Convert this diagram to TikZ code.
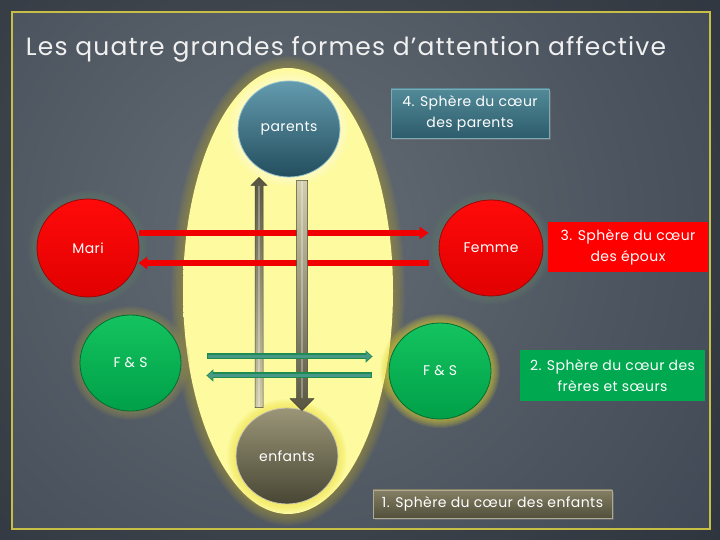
\documentclass[tikz,border=0pt]{standalone}
\usepackage{fontspec}
\setmainfont{Poppins}
\newfontfamily\titlefont[LetterSpace=4.5]{Poppins}
\newfontfamily\spacedfont[LetterSpace=3]{Poppins}
\usetikzlibrary{shapes.geometric,arrows.meta,calc,shadows}

\definecolor{bgin}{RGB}{100,108,116}
\definecolor{bgout}{RGB}{22,32,48}
\definecolor{framecol}{RGB}{200,190,70}
\definecolor{yin}{RGB}{253,250,160}
\definecolor{yout}{RGB}{248,238,105}
\definecolor{yglow}{RGB}{165,152,60}
\definecolor{redA}{RGB}{255,10,10}
\definecolor{redB}{RGB}{225,0,0}
\definecolor{redD}{RGB}{150,10,10}
\definecolor{grA}{RGB}{20,195,95}
\definecolor{grB}{RGB}{0,160,72}
\definecolor{grD}{RGB}{0,110,50}
\definecolor{parA}{RGB}{100,155,175}
\definecolor{parB}{RGB}{35,78,94}
\definecolor{parD}{RGB}{150,195,205}
\definecolor{enfA}{RGB}{155,150,120}
\definecolor{enfB}{RGB}{72,70,52}
\definecolor{enfD}{RGB}{205,200,175}
\definecolor{boxfourA}{RGB}{82,138,152}
\definecolor{boxfourB}{RGB}{45,92,108}
\definecolor{boxfourD}{RGB}{125,170,180}
\definecolor{boxoneA}{RGB}{132,127,100}
\definecolor{boxoneB}{RGB}{82,80,60}
\definecolor{boxoneD}{RGB}{175,170,145}
\definecolor{boxred}{RGB}{255,0,0}
\definecolor{boxgreen}{RGB}{0,168,80}
\definecolor{arrred}{RGB}{240,0,0}
\definecolor{garrfill}{RGB}{72,152,135}
\definecolor{garrline}{RGB}{30,140,80}
\definecolor{vdark}{RGB}{88,86,66}
\definecolor{vlight}{RGB}{210,205,172}
\definecolor{vedge}{RGB}{70,68,50}
\definecolor{halored}{RGB}{100,125,105}
\definecolor{halogl}{RGB}{150,145,80}
\definecolor{halogr}{RGB}{225,212,50}
\definecolor{halopar}{RGB}{255,255,220}
\definecolor{haloenf}{RGB}{240,228,70}
\definecolor{titlecol}{RGB}{240,240,240}

\pgfdeclareradialshading{bgshade}{\pgfpoint{0bp}{0bp}}{color(0bp)=(bgin); color(50bp)=(bgout)}
\pgfdeclareradialshading{yelshade}{\pgfpoint{0bp}{0bp}}{color(0bp)=(yin); color(40bp)=(yin); color(50bp)=(yout)}

\newcommand\myhalo[4]{%
  \foreach \i in {1,...,9}{\fill[#4, opacity=0.09] (#1) ellipse [x radius={#2+\i}, y radius={#3+\i}];}%
}

\begin{document}
\begin{tikzpicture}[x=1pt,y=1pt,
  ball/.style={ellipse, inner sep=0pt, minimum width=102pt, minimum height=96pt,
    text=white, font=\spacedfont\fontsize{14}{16}\selectfont, line width=0.8pt},
  redball/.style={ball, top color=redA, bottom color=redB, draw=redD},
  greenball/.style={ball, top color=grA, bottom color=grB, draw=grD},
  parball/.style={ball, top color=parA, bottom color=parB, draw=parD},
  enfball/.style={ball, top color=enfA, bottom color=enfB, draw=enfD},
  labelbox/.style={rectangle, inner sep=0pt, align=center, text=white,
    font=\spacedfont\fontsize{14}{21}\selectfont},
  redarrow/.style={draw=arrred, line width=6pt, -{Triangle[length=9pt,width=12pt]}},
  garrout/.style={draw=garrline, line width=6pt, -{Triangle[length=7pt,width=12pt]}},
  garrin/.style={draw=garrfill, line width=3.8pt, -{Triangle[length=5pt,width=8.5pt]},
    shorten >=1.2pt, shorten <=1pt},
  vbar/.style={draw=vedge, line width=0.5pt}
]
\useasboundingbox (0,0) rectangle (720,540);
% background
\fill[bgout] (0,0) rectangle (720,540);
\begin{scope}
  \clip (0,0) rectangle (720,540);
  \shade[shading=bgshade] (290,310) circle (560);
\end{scope}
\fill[black, opacity=0.25, even odd rule] (0,0) rectangle (720,540) (12,11) rectangle (710,528);
\draw[framecol, line width=1.5pt] (12,11) rectangle (710,528);

% title
\node[anchor=base, text=titlecol, font=\titlefont\fontsize{25}{28}\selectfont, inner sep=0pt]
  (title) at (346,484) {Les quatre grandes formes d’attention affective};

% yellow zone
\foreach \i in {1,...,10}{\fill[yglow, opacity=0.08] (288,249) ellipse [x radius={105+1.2*\i}, y radius={223+1.2*\i}];}
\node[ellipse, minimum width=210pt, minimum height=446pt, inner sep=0pt,
  shading=yelshade] (zone) at (288,249) {};

% halos
\myhalo{289,411}{51}{48}{halopar}
\myhalo{287,84}{51}{48}{haloenf}
\myhalo{88,292}{51}{49}{halored}
\myhalo{491,292}{52}{48}{halored}
\myhalo{130.5,177}{50.5}{48}{halogl}
\myhalo{440,169}{51}{48}{halogr}

% circles
\node[parball] (parents) at (289,411) {parents};
\node[enfball] (enfants) at (287,84) {enfants};
\node[redball, minimum height=98pt] (mari) at (88,292) {Mari};
\node[redball, minimum width=104pt] (femme) at (491,292) {Femme};
\node[greenball, minimum width=101pt] (fsl) at (130.5,177) {F \& S};
\node[greenball] (fsr) at (440,169) {F \& S};

% boxes
\node[labelbox, minimum width=158pt, minimum height=49pt, top color=boxfourA,
  bottom color=boxfourB, draw=boxfourD, line width=0.8pt,
  drop shadow={opacity=0.5, shadow xshift=1.5pt, shadow yshift=-2pt}]
  (box4) at (470,426.5) {4. Sphère du cœur\\des parents};
\node[labelbox, minimum width=160pt, minimum height=50pt, fill=boxred]
  (box3) at (628,293) {3. Sphère du cœur\\des époux};
\node[labelbox, minimum width=185pt, minimum height=51pt, fill=boxgreen]
  (box2) at (612.5,164.5) {2. Sphère du cœur des\\frères et sœurs};
\node[labelbox, minimum width=239pt, minimum height=28pt, top color=boxoneA,
  bottom color=boxoneB, draw=boxoneD, line width=0.8pt,
  drop shadow={opacity=0.5, shadow xshift=1.5pt, shadow yshift=-2pt}]
  (box1) at (492.5,36) {1. Sphère du cœur des enfants};

% vertical arrow enfants -> parents (left, under red arrows)
\coordinate (lb) at ([xshift=-28pt]enfants.north);
\coordinate (lt) at ([xshift=-30pt]parents.south);
\shade[vbar, top color=vdark, bottom color=vlight]
  ($(lt)+(-4,-8)$) -- ($(lt)+(-8,-8)$) -- (lt) -- ($(lt)+(8,-8)$) -- ($(lt)+(4,-8)$)
  -- ($(lb)+(4,0)$) -- ($(lb)+(-4,0)$) -- cycle;
\draw[white, opacity=0.3, line width=1.5pt] ($(lt)+(0,-9)$) -- ($(lb)+(0,1)$);

% red arrows
\draw[redarrow] ([yshift=15pt]mari.east) -- ([xshift=-10pt,yshift=15pt]femme.west);
\draw[redarrow] ([xshift=-10pt,yshift=-15pt]femme.west) -- ([xshift=-1pt,yshift=-15pt]mari.east);

% vertical arrow parents -> enfants (right, over red arrows)
\coordinate (rt) at ([xshift=13pt,yshift=-3pt]parents.south);
\coordinate (rb) at ([xshift=15pt,yshift=-3pt]enfants.north);
\shade[vbar, top color=vlight, bottom color=vdark]
  ($(rt)+(-5.5,0)$) -- ($(rt)+(5.5,0)$) -- ($(rb)+(5.5,12)$) -- ($(rb)+(12,12)$) -- (rb)
  -- ($(rb)+(-12,12)$) -- ($(rb)+(-5.5,12)$) -- cycle;
\draw[white, opacity=0.3, line width=2pt] ($(rt)+(0,-1)$) -- ($(rb)+(0,13)$);

% green arrows
\draw[garrout] ([xshift=26pt,yshift=6.5pt]fsl.east) -- ([xshift=-16pt,yshift=14.5pt]fsr.west);
\draw[garrin] ([xshift=26pt,yshift=6.5pt]fsl.east) -- ([xshift=-16pt,yshift=14.5pt]fsr.west);
\draw[garrout] ([xshift=-17pt,yshift=-4.5pt]fsr.west) -- ([xshift=25pt,yshift=-12.5pt]fsl.east);
\draw[garrin] ([xshift=-17pt,yshift=-4.5pt]fsr.west) -- ([xshift=25pt,yshift=-12.5pt]fsl.east);
\end{tikzpicture}
\end{document}
